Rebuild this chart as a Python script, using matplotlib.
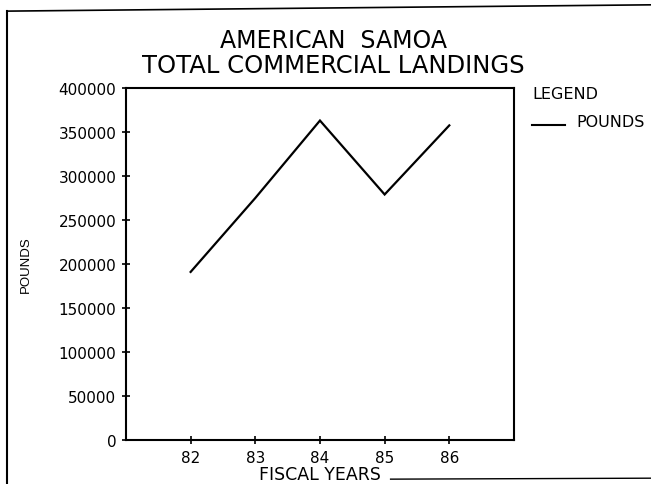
import matplotlib

matplotlib.use("Agg")

import matplotlib.pyplot as plt
from matplotlib.lines import Line2D

years = [82, 83, 84, 85, 86]
pounds = [191000, 275000, 363000, 279000, 357500]
y_ticks = [0, 50000, 100000, 150000, 200000, 250000, 300000, 350000, 400000]

plt.rcParams["font.family"] = ["DejaVu Sans"]

fig = plt.figure(figsize=(6.51, 4.85), dpi=100)
ax = fig.add_axes([0.1935, 0.0907, 0.596, 0.7258])

ax.plot(years, pounds, color="black", lw=1.6, solid_joinstyle="miter")
ax.set_xlim(81, 87)
ax.set_ylim(0, 400000)
ax.set_xticks(years)
ax.set_xticklabels([str(y) for y in years])
ax.set_yticks(y_ticks)
ax.set_yticklabels([str(v) for v in y_ticks])
ax.tick_params(direction="inout", length=6, width=1.2, labelsize=11, pad=4)
for sp in ax.spines.values():
    sp.set_linewidth(1.5)

ax.set_xlabel("FISCAL YEARS", fontsize=12.5, labelpad=0)
ax.set_ylabel("POUNDS", fontsize=9.5, family="Liberation Sans")
ax.yaxis.set_label_coords(-0.242, 0.5)

fig.text(0.513, 0.916, "AMERICAN  SAMOA", ha="center", va="center", fontsize=17)
fig.text(0.512, 0.863, "TOTAL COMMERCIAL LANDINGS", ha="center", va="center", fontsize=17.5)

# legend drawn the way the plotter did it
fig.text(0.818, 0.806, "LEGEND", ha="left", va="center", fontsize=11.5)
fig.add_artist(Line2D([0.817, 0.868], [0.740, 0.740], color="black", lw=1.5))
fig.text(0.885, 0.748, "POUNDS", ha="left", va="center", fontsize=11.5)

# page frame
fig.add_artist(Line2D([0.011, 0.011], [0.0, 0.975], color="black", lw=1.5))
fig.add_artist(Line2D([0.011, 1.0], [0.975, 0.988], color="black", lw=1.2))
fig.add_artist(Line2D([0.60, 1.0], [0.010, 0.012], color="black", lw=1.0))

fig.savefig("out.png", dpi=100)
